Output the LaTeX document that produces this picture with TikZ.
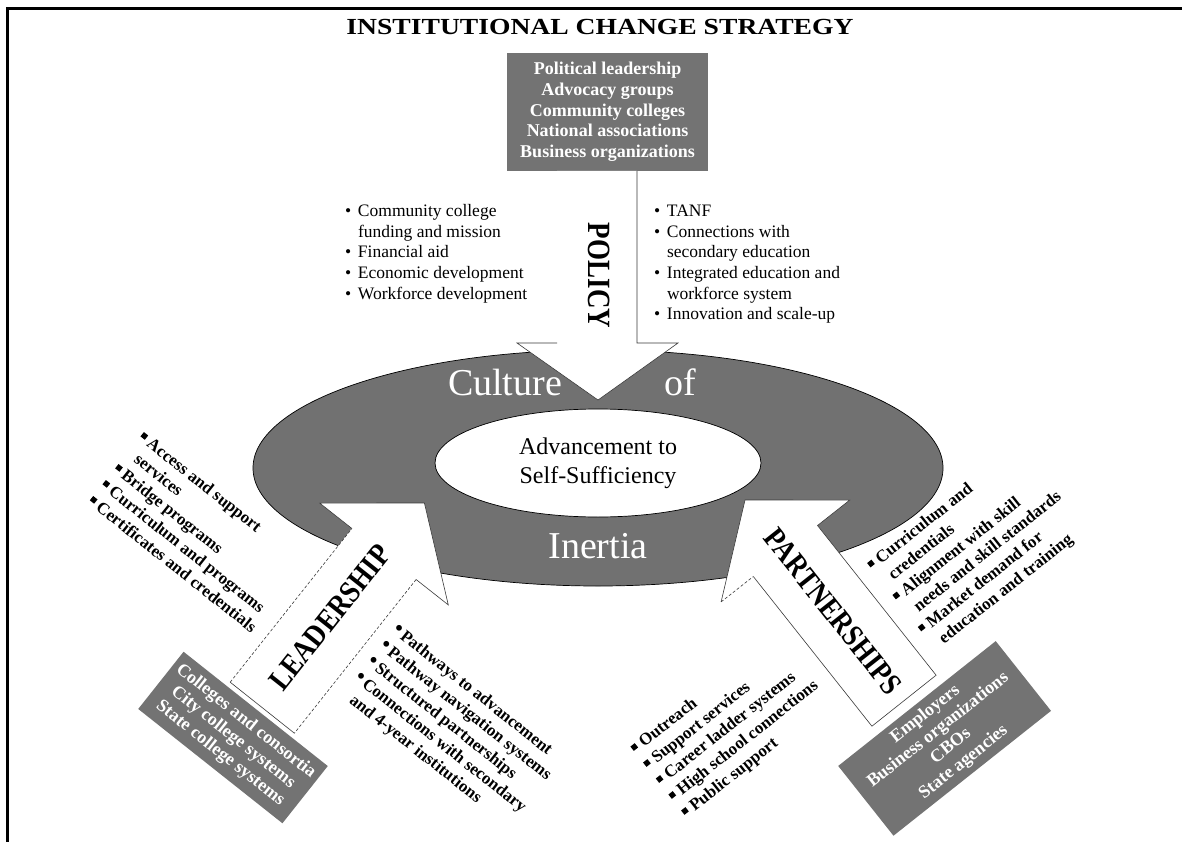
\documentclass[tikz,border=0pt]{standalone}
\usepackage{fontspec}
\setmainfont{Liberation Serif}
\usepackage{graphicx}
\definecolor{ringgray}{HTML}{717171}
\definecolor{boxgray}{HTML}{737373}
\definecolor{edgec}{HTML}{3A3A3A}
\newcommand\rowbox[1]{\hbox{#1}}
\newcommand\sqb{\makebox[10pt][l]{\raisebox{4pt}{\rule{5.5pt}{5.5pt}}}}
\newcommand\rdb{\makebox[10pt][l]{\raisebox{0.5pt}{\scalebox{1.25}{\textbullet}}}}
\newcommand\pb{\makebox[13pt][l]{\textbullet}}
\newcommand\indt{\hspace*{10pt}}
\newcommand\indp{\hspace*{13pt}}
\begin{document}
\begin{tikzpicture}[x=1pt,y=-1pt,
  txt/.style={inner sep=0pt,outer sep=0pt},
  polist/.style={txt,anchor=base west,font=\fontsize{17.5}{20.5}\selectfont},
  blist/.style={txt,anchor=base west,font=\fontsize{17}{20.4}\selectfont\bfseries},
  graybox/.style={fill=boxgray,text=white,inner sep=0pt,align=center,font=\fontsize{17.5}{20.5}\selectfont\bfseries},
  bigword/.style={txt,text=white,font=\fontsize{38}{38}\selectfont},
  armword/.style={txt,font=\fontsize{27}{27}\selectfont\bfseries},
  outl/.style={draw=edgec,line width=0.6pt},
  doutl/.style={outl,dash pattern=on 3pt off 2pt},
  whitefill/.style={fill=white}]
\useasboundingbox (0,0) rectangle (1182,842);
\fill[white] (0,0) rectangle (1182,842);
% frame
\draw[line width=3pt] (7.5,842) -- (7.5,8.5) -- (1182,8.5);
% title
\node[txt,font=\fontsize{23}{23}\selectfont\bfseries] (title) at (600,27.5) {\scalebox{1.2}[1]{INSTITUTIONAL CHANGE STRATEGY}};
% source box top
\node[graybox,minimum width=201pt,minimum height=118pt,font=\fontsize{18}{20.7}\selectfont\bfseries] (src) at (607.5,112)
 {Political leadership\\Advocacy groups\\Community colleges\\National associations\\Business organizations};
% ring
\path[fill=ringgray,draw=black,line width=0.7pt,even odd rule]
  (598,468) ellipse [x radius=345pt,y radius=118pt]
  (598,463) ellipse [x radius=163pt,y radius=54pt];
% policy arrow
\coordinate (poA) at (637,171);
\coordinate (poB) at (637,343);
\coordinate (poC) at (678,343);
\coordinate (poT) at (598,400);
\coordinate (poD) at (517,343);
\coordinate (poE) at (557,343);
\coordinate (poF) at (557,171);
\fill[whitefill] (poA) -- (poB) -- (poC) -- (poT) -- (poD) -- (poE) -- (poF) -- cycle;
\draw[outl] (poA) -- (poB) -- (poC) -- (poT) -- (poD) -- (poE);
% leadership arrow
\coordinate (lT) at (424.4,503);
\coordinate (lR) at (448.3,604.9);
\coordinate (lCr) at (416.1,579.5);
\coordinate (lTr) at (294.4,733.2);
\coordinate (lTl) at (230.2,682.2);
\coordinate (lCl) at (351.9,528.5);
\coordinate (lL) at (319.7,503.1);
\fill[whitefill] (lT) -- (lR) -- (lCr) -- (lTr) -- (lTl) -- (lCl) -- (lL) -- cycle;
\draw[outl] (lCl) -- (lL) -- (lT) -- (lR) -- (lCr);
\draw[doutl] (lCr) -- (lTr);
\draw[outl] (lTr) -- (lTl);
\draw[doutl] (lTl) -- (lCl);
% partnerships arrow
\coordinate (pT) at (745,500);
\coordinate (pF) at (849.7,500.1);
\coordinate (pCr) at (817.5,525.5);
\coordinate (pCrt) at (936.1,675.2);
\coordinate (pClt) at (871.9,726.2);
\coordinate (pCl) at (753.3,576.5);
\coordinate (pN) at (721.1,601.9);
\fill[whitefill] (pT) -- (pF) -- (pCr) -- (pCrt) -- (pClt) -- (pCl) -- (pN) -- cycle;
\draw[outl] (pCl) -- (pClt) -- (pCrt) -- (pCr) -- (pF) -- (pT) -- (pN);
\draw[doutl] (pN) -- (pCl);
% ring words
\node[bigword] (cult) at (505,382) {Culture};
\node[bigword] (of) at (680,382) {of};
\node[bigword] (inert) at (598,546) {Inertia};
\node[txt,align=center,font=\fontsize{24}{29}\selectfont] (adv) at (598,463) {Advancement to\\Self-Sufficiency};
% arrow words
\node[armword,rotate=-90] (pol) at (599,275.5) {\scalebox{1}[1.2]{POLICY}};
\node[armword,rotate=51.6] (lead) at (330,617.5) {\scalebox{1}[1.15]{LEADERSHIP}};
\node[armword,rotate=-51.6] (part) at (833,611.5) {\scalebox{0.98}[1.15]{PARTNERSHIPS}};
% policy lists
\node[polist] (pl) at (345,217) {\vtop{\rowbox{\pb Community college}\rowbox{\indp funding and mission}\rowbox{\pb Financial aid}\rowbox{\pb Economic development}\rowbox{\pb Workforce development}}};
\node[polist] (pr) at (654,217) {\vtop{\rowbox{\pb TANF}\rowbox{\pb Connections with}\rowbox{\indp secondary education}\rowbox{\pb Integrated education and}\rowbox{\indp workforce system}\rowbox{\pb Innovation and scale-up}}};
% source boxes
\node[graybox,rotate=-38.4,minimum width=184pt,minimum height=73pt,font=\fontsize{18}{20.5}\selectfont\bfseries] (lbox) at (233,737.5)
 {Colleges and consortia\\City college systems\\State college systems};
\node[graybox,rotate=38.4,minimum width=201pt,minimum height=89pt,font=\fontsize{18}{20.5}\selectfont\bfseries] (pbox) at (944.6,738.4)
 {Employers\\Business organizations\\CBOs\\State agencies};
% rotated lists
\node[blist,rotate=-38.4] (lu) at (138,439.5) {\vtop{\rowbox{\sqb Access and support}\rowbox{\indt services}\rowbox{\sqb Bridge programs}\rowbox{\sqb Curriculum and programs}\rowbox{\sqb Certificates and credentials}}};
\node[blist,rotate=-38.4] (ll) at (391.5,631.9) {\vtop{\rowbox{\rdb Pathways to advancement}\rowbox{\rdb Pathway navigation systems}\rowbox{\rdb Structured partnerships}\rowbox{\rdb Connections with secondary}\rowbox{\indt and 4-year institutions}}};
\node[blist,rotate=38.4] (ru) at (873,570.5) {\vtop{\rowbox{\sqb Curriculum and}\rowbox{\indt credentials}\rowbox{\sqb Alignment with skill}\rowbox{\indt needs and skill standards}\rowbox{\sqb Market demand for}\rowbox{\indt education and training}}};
\node[blist,rotate=38.4] (lr) at (636.3,754) {\vtop{\rowbox{\sqb Outreach}\rowbox{\sqb Support services}\rowbox{\sqb Career ladder systems}\rowbox{\sqb High school connections}\rowbox{\sqb Public support}}};
\end{tikzpicture}
\end{document}
